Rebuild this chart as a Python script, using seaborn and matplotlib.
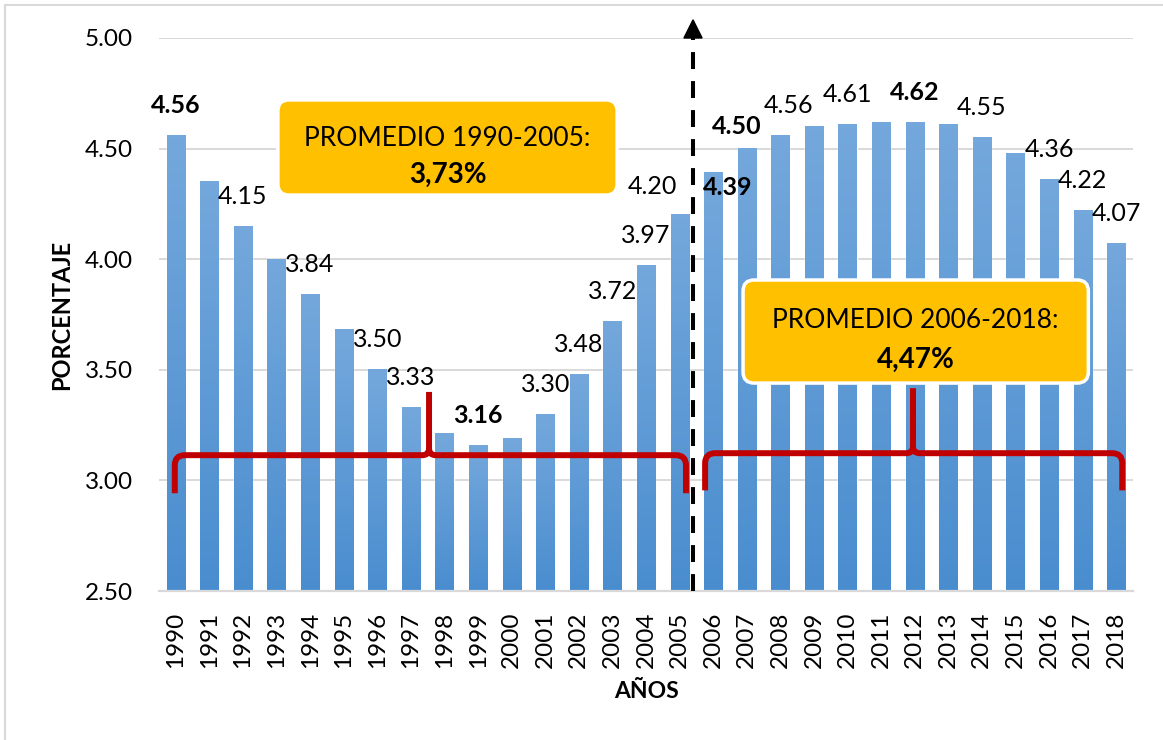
import matplotlib
matplotlib.use("Agg")
import matplotlib.pyplot as plt
import seaborn as sns
import pandas as pd
import numpy as np
from matplotlib.path import Path
from matplotlib.patches import PathPatch, FancyBboxPatch, Rectangle
from matplotlib.colors import LinearSegmentedColormap

# data
years = list(range(1990, 2019))
values = [4.56, 4.35, 4.15, 4.00, 3.84, 3.68, 3.50, 3.33, 3.21, 3.16,
          3.19, 3.30, 3.48, 3.72, 3.97, 4.20, 4.39, 4.50, 4.56, 4.60,
          4.61, 4.62, 4.62, 4.61, 4.55, 4.48, 4.36, 4.22, 4.07]
labelled_years = [1990, 1992, 1994, 1996, 1997, 1999, 2001, 2002, 2003, 2004,
                  2005, 2006, 2007, 2008, 2010, 2012, 2014, 2016, 2017, 2018]
bold_years = [1990, 1999, 2006, 2007, 2012]
periods = ["1990-2005", "2006-2018"]
period_means = ["3,73%", "4,47%"]

df = pd.DataFrame({"year": [str(y) for y in years], "value": values})

sns.set_style("white")
plt.rcParams["font.family"] = ["Lato", "DejaVu Sans"]
plt.rcParams["text.color"] = "black"
plt.rcParams["xtick.color"] = "black"
plt.rcParams["ytick.color"] = "black"

fig = plt.figure(figsize=(11.63, 7.40), dpi=100)
ax = fig.add_axes([159 / 1163, 1 - 591 / 740, 974 / 1163, 553 / 740])

sns.barplot(data=df, x="year", y="value", width=0.54, color="#5b9bd5",
            saturation=1, ax=ax, zorder=2)

# vertical gradient on each bar (light top, darker bottom)
cmap = LinearSegmentedColormap.from_list("bar", ["#4a8dcf", "#74a8dc"])
grad = np.linspace(0, 1, 100).reshape(-1, 1)
for p in ax.patches:
    x0 = p.get_x()
    w = p.get_width()
    h = p.get_height()
    ax.imshow(grad, extent=[x0, x0 + w, 2.5, h], origin="lower", cmap=cmap,
              aspect="auto", zorder=3)

ax.set_xlim(-0.5, len(years) - 0.5)
ax.set_ylim(2.5, 5.0)
ax.set_yticks(np.arange(2.5, 5.01, 0.5))
ax.yaxis.set_major_formatter(matplotlib.ticker.FormatStrFormatter("%.2f"))
ax.grid(axis="y", color="#d9d9d9", linewidth=1.4, zorder=0)
ax.set_axisbelow(True)
for s in ["left", "right", "top"]:
    ax.spines[s].set_visible(False)
ax.spines["bottom"].set_color("#d9d9d9")
ax.spines["bottom"].set_linewidth(1.6)
ax.spines["bottom"].set_zorder(4)
ax.tick_params(axis="x", labelrotation=90, length=0, pad=15, labelsize=17.5)
ax.tick_params(axis="y", length=0, pad=19, labelsize=17.5)
ax.set_xlabel("")
ax.set_ylabel("")

# value labels (most sit just above their bar, a few are nudged)
offsets = {2005: (-0.8, 0.13), 2006: (0.42, -0.065), 2007: (-0.3, 0.10),
           2008: (0.25, 0.135)}
for yr in labelled_years:
    i = years.index(yr)
    dx, dy = offsets.get(yr, (0.0, 0.135))
    ax.text(i + dx, values[i] + dy, f"{values[i]:.2f}", ha="center", va="center",
            fontsize=18, fontweight="bold" if yr in bold_years else "normal",
            zorder=6)

# dashed divider with arrow head
xd = years.index(2005) + 0.40
ax.plot([xd, xd], [2.5, 5.0], color="black", lw=2.9, dashes=(4.2, 3.0),
        clip_on=False, zorder=5)
ax.fill([xd - 0.27, xd + 0.27, xd], [5.0, 5.0, 5.082], color="black",
        clip_on=False, zorder=5)


def brace(x0, x1, xm, ybase, ylow, ytop):
    rx, ry = 0.3, 0.045
    cx, cy = 0.2, 0.03
    verts = [(x0, ylow), (x0, ybase - ry), (x0, ybase), (x0 + rx, ybase),
             (xm - cx, ybase), (xm, ybase), (xm, ybase + cy), (xm, ytop),
             (xm, ybase + cy), (xm, ybase), (xm + cx, ybase),
             (x1 - rx, ybase), (x1, ybase), (x1, ybase - ry), (x1, ylow)]
    codes = [Path.MOVETO, Path.LINETO, Path.CURVE3, Path.CURVE3,
             Path.LINETO, Path.CURVE3, Path.CURVE3, Path.LINETO,
             Path.MOVETO, Path.CURVE3, Path.CURVE3,
             Path.LINETO, Path.CURVE3, Path.CURVE3, Path.LINETO]
    ax.add_patch(PathPatch(Path(verts, codes), facecolor="none",
                           edgecolor="#c00000", lw=4.3, capstyle="butt",
                           joinstyle="round", zorder=7))


brace(-0.03, 15.19, 7.54, 3.114, 2.942, 3.40)
brace(15.76, 28.18, 21.95, 3.123, 2.955, 3.417)

# average boxes
aspect = (1 / 221) / (1 / 33.57)
boxes = [(3.04, 4.29, 10.10, 0.43), (16.89, 3.44, 10.28, 0.466)]
centers = [(8.09, 4.547, 4.38), (22.03, 3.725, 3.543)]
for (bx, by, bw, bh), (cx, y1, y2), per, mean in zip(boxes, centers, periods, period_means):
    ax.add_patch(FancyBboxPatch((bx, by), bw, bh,
                                boxstyle="round,pad=0,rounding_size=0.33",
                                mutation_aspect=aspect, facecolor="#ffc000",
                                edgecolor="white", lw=2.5, zorder=8))
    ax.text(cx, y1, f"PROMEDIO {per}:", ha="center", va="center",
            fontsize=19, zorder=9)
    ax.text(cx, y2, mean, ha="center", va="center", fontsize=20,
            fontweight="bold", zorder=9)

# axis titles
fig.text(62 / 1163, 1 - 315 / 740, "PORCENTAJE", rotation=90, ha="center",
         va="center", fontsize=17, fontweight="bold")
fig.text(646 / 1163, 1 - 691 / 740, "AÑOS", ha="center", va="center",
         fontsize=16.5, fontweight="bold")

# chart frame
fig.patches.append(Rectangle((5 / 1163, -0.1), 1.2, 1 - 5 / 740 + 0.1,
                             transform=fig.transFigure, fill=False,
                             edgecolor="#d9d9d9", lw=1.5))

fig.savefig("out.png", dpi=100)
